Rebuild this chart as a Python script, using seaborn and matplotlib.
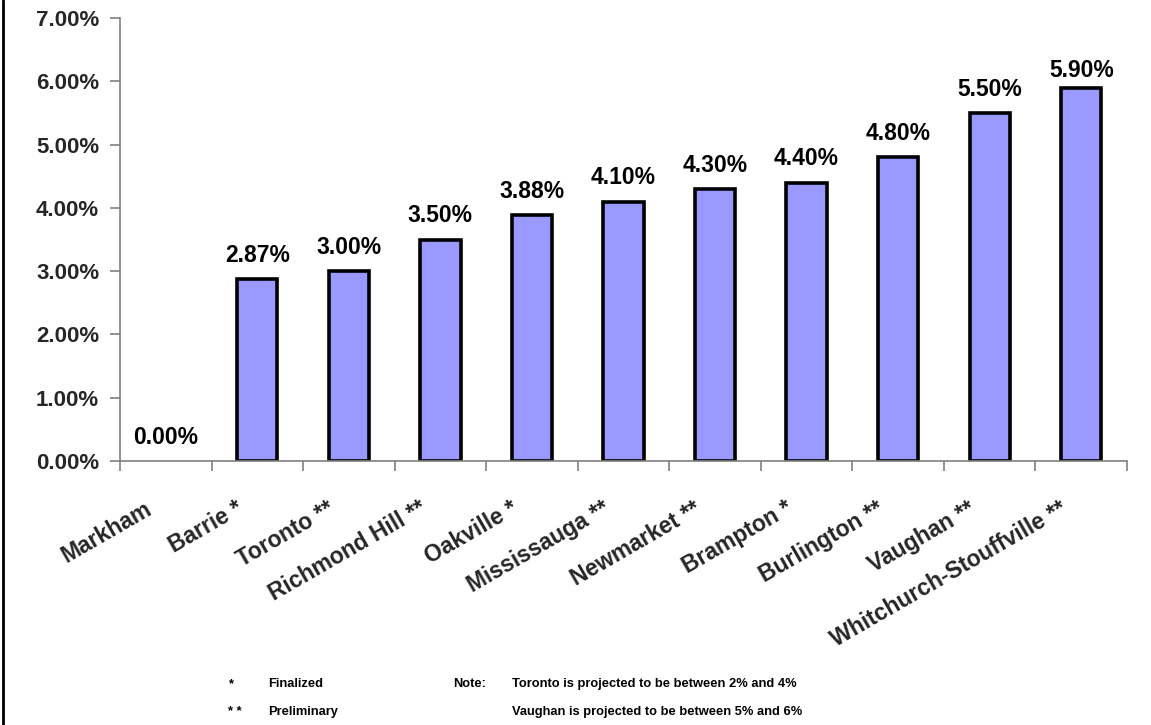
import matplotlib
matplotlib.use("Agg")
import matplotlib.pyplot as plt
from matplotlib.lines import Line2D
from matplotlib.ticker import FixedLocator, PercentFormatter
from matplotlib.transforms import ScaledTranslation
import seaborn as sns
import pandas as pd

# Municipal tax rate increases
municipalities = [
    "Markham", "Barrie *", "Toronto **", "Richmond Hill **", "Oakville *",
    "Mississauga **", "Newmarket **", "Brampton *", "Burlington **",
    "Vaughan **", "Whitchurch-Stouffville **",
]
increase_pct = [0.00, 2.87, 3.00, 3.50, 3.88, 4.10, 4.30, 4.40, 4.80, 5.50, 5.90]
y_ticks = [0, 1, 2, 3, 4, 5, 6, 7]

sns.set_theme(style="white")
plt.rcParams["font.family"] = ["Liberation Sans", "DejaVu Sans"]
plt.rcParams["font.weight"] = "bold"

df = pd.DataFrame({"municipality": municipalities, "increase": increase_pct})

W, H = 1151, 725
fig = plt.figure(figsize=(W / 100, H / 100), dpi=100)
ax = fig.add_axes([120 / W, (H - 461) / H, 1007 / W, 443 / H])

sns.barplot(data=df, x="municipality", y="increase", color="#9999FF",
            saturation=1, edgecolor="black", linewidth=2.6, width=0.44, ax=ax)

for bar, v in zip(ax.patches, increase_pct):
    if v == 0:
        bar.set_edgecolor("none")
    # value label sits above the bar, kept inside the plotting area
    y_lab = min(v + 0.27, 6.07)
    ax.text(bar.get_x() + bar.get_width() / 2, y_lab, f"{v:.2f}%",
            ha="center", va="baseline", fontsize=16.5, fontweight="bold",
            color="black")

ax.set_xlim(-0.5, len(municipalities) - 0.5)
ax.set_ylim(0, 7)
ax.yaxis.set_major_locator(FixedLocator(y_ticks))
ax.yaxis.set_major_formatter(PercentFormatter(decimals=2))
ax.set_xlabel("")
ax.set_ylabel("")

ax.set_xticks(range(len(municipalities)))
ax.set_xticklabels(municipalities, rotation=30, ha="right", va="center",
                   rotation_mode="anchor", fontsize=16.5, fontweight="bold")
ax.set_xticks([i - 0.5 for i in range(len(municipalities) + 1)], minor=True)
ax.tick_params(axis="x", which="major", length=0, pad=0)
ax.tick_params(axis="x", which="minor", length=7, width=1.2, color="#808080",
               direction="out", bottom=True)
shift = ScaledTranslation(-16 / 100, -46 / 100, fig.dpi_scale_trans)
for lbl in ax.get_xticklabels():
    lbl.set_transform(lbl.get_transform() + shift)

ax.tick_params(axis="y", length=7, width=1.2, color="#808080", direction="out",
               left=True, labelsize=16, pad=8)
for lbl in ax.get_yticklabels():
    lbl.set_fontweight("bold")

for side in ("top", "right"):
    ax.spines[side].set_visible(False)
for side in ("left", "bottom"):
    ax.spines[side].set_color("#808080")
    ax.spines[side].set_linewidth(1.2)

# Left frame edge
fig.add_artist(Line2D([3 / W, 3 / W], [0, 1], transform=fig.transFigure,
                      color="black", linewidth=2))

# Footnotes
fs = 9.3
def fig_text(x_px, y_px, s):
    fig.text(x_px / W, 1 - y_px / H, s, fontsize=fs, fontweight="bold",
             va="center", ha="left", color="black")

fig_text(229, 684, "*")
fig_text(268, 684, "Finalized")
fig_text(228, 712, "* *")
fig_text(268, 712, "Preliminary")
fig_text(453, 684, "Note:")
fig_text(512, 684, "Toronto is projected to be between 2% and 4%")
fig_text(512, 712, "Vaughan is projected to be between 5% and 6%")

fig.savefig("out.png", dpi=100)
